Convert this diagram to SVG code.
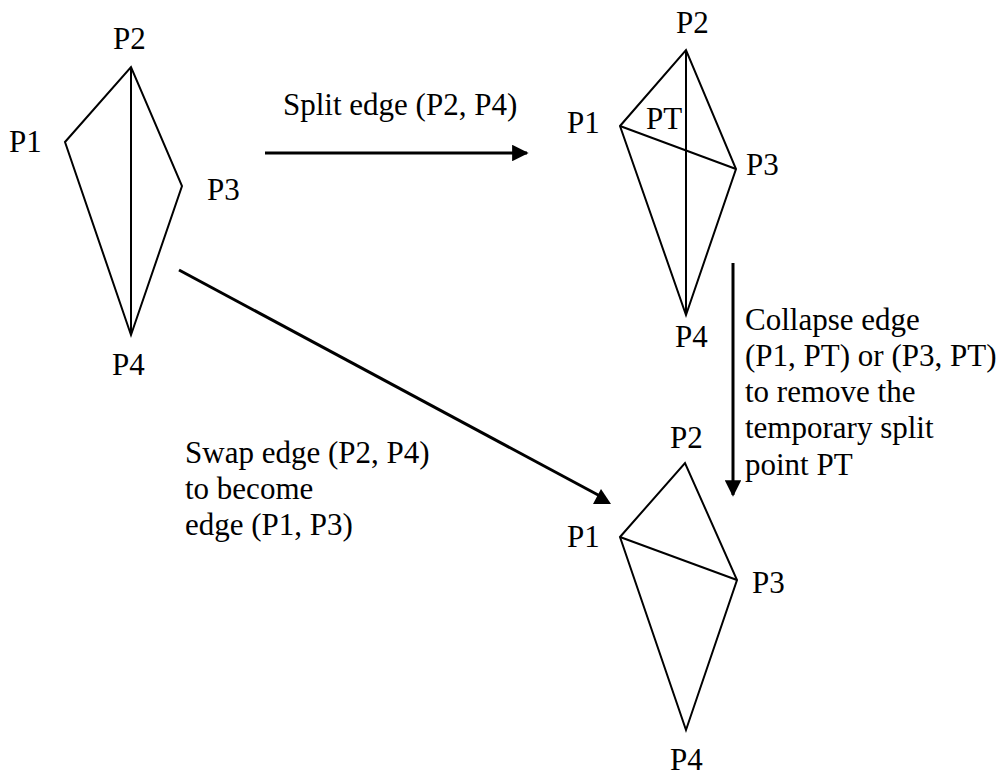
<svg xmlns="http://www.w3.org/2000/svg" width="1006" height="776" viewBox="0 0 1006 776">
  <style>
    .edge { fill: none; stroke: #000; stroke-width: 2; stroke-linejoin: miter; }
    .arrow { fill: none; stroke: #000; stroke-width: 3; }
    .head { fill: #000; stroke: none; }
    text { font-family: "Liberation Serif", "Times New Roman", serif; font-size: 31px; fill: #000; }
  </style>
  <defs>
    <marker id="head" viewBox="0 0 10 10" refX="9" refY="5" markerWidth="5.5" markerHeight="5.5" orient="auto" markerUnits="strokeWidth">
      <path d="M0,0 L10,5 L0,10 Z" fill="#000"/>
    </marker>
  </defs>
  <rect width="1006" height="776" fill="#fff"/>

  <!-- initial mesh: quad P1-P2-P3-P4 with edge P2-P4 -->
  <g id="mesh-original">
    <polygon class="edge" points="65,142 131,67 182,186 131,335"/>
    <line class="edge" x1="131" y1="67" x2="131" y2="335"/>
    <text x="113" y="49">P2</text>
    <text x="9" y="152">P1</text>
    <text x="207" y="200">P3</text>
    <text x="112" y="375">P4</text>
  </g>

  <!-- mesh after splitting P2-P4 at PT -->
  <g id="mesh-split">
    <polygon class="edge" points="620,126 686,50 736,169 686,315"/>
    <line class="edge" x1="686" y1="50" x2="686" y2="315"/>
    <line class="edge" x1="620" y1="126" x2="736" y2="169"/>
    <text x="676" y="33">P2</text>
    <text x="567" y="133">P1</text>
    <text x="646" y="129">PT</text>
    <text x="746" y="175">P3</text>
    <text x="675" y="347">P4</text>
  </g>

  <!-- resulting mesh with edge P1-P3 -->
  <g id="mesh-swapped">
    <polygon class="edge" points="620,537 685,463 737,580 686,730"/>
    <line class="edge" x1="620" y1="537" x2="737" y2="580"/>
    <text x="670" y="448">P2</text>
    <text x="567" y="547">P1</text>
    <text x="752" y="593">P3</text>
    <text x="670" y="770">P4</text>
  </g>

  <g id="connectors">
    <line class="arrow" x1="265" y1="153" x2="527" y2="153" marker-end="url(#head)"/>
    <line class="arrow" x1="733" y1="263" x2="733" y2="495" marker-end="url(#head)"/>
    <line class="arrow" x1="179" y1="270" x2="600" y2="496"/>
    <polygon class="head" points="593,504 611,504 601,489"/>
  </g>

  <g id="labels">
    <text x="283" y="115">Split edge (P2, P4)</text>
    <text x="745" y="330">Collapse edge</text>
    <text x="745" y="366">(P1, PT) or (P3, PT)</text>
    <text x="745" y="402">to remove the</text>
    <text x="745" y="438">temporary split</text>
    <text x="745" y="475">point PT</text>
    <text x="185" y="463">Swap edge (P2, P4)</text>
    <text x="185" y="499">to become</text>
    <text x="185" y="535">edge (P1, P3)</text>
  </g>
</svg>
